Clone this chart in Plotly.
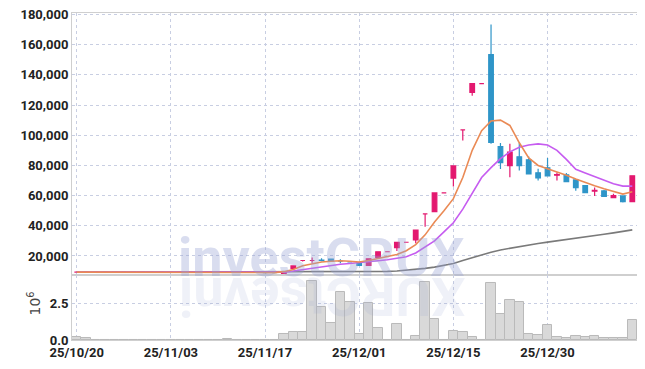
import plotly.graph_objects as go
from plotly.subplots import make_subplots

dates = ["25/10/20","25/10/21","25/10/22","25/10/23","25/10/24","25/10/27","25/10/28","25/10/29","25/10/30","25/10/31",
         "25/11/03","25/11/04","25/11/05","25/11/06","25/11/07","25/11/10","25/11/11","25/11/12","25/11/13","25/11/14",
         "25/11/17","25/11/18","25/11/19","25/11/20","25/11/21","25/11/24","25/11/25","25/11/26","25/11/27","25/11/28",
         "25/12/01","25/12/02","25/12/03","25/12/04","25/12/05","25/12/08","25/12/09","25/12/10","25/12/11","25/12/12",
         "25/12/15","25/12/16","25/12/17","25/12/18","25/12/19","25/12/22","25/12/23","25/12/24","25/12/26","25/12/29",
         "25/12/30","26/01/02","26/01/05","26/01/06","26/01/07","26/01/08","26/01/09","26/01/12","26/01/13","26/01/14"]

tick_labels = ["25/10/20","25/11/03","25/11/17","25/12/01","25/12/15","25/12/30"]

open_ = [9300]*20 + [7800, 7800, 7800, 11800, 17000, 17000, 17200, 18000, 16600, 16000,
         15500, 13800, 19000, 22800, 25500, 29100, 30600, 47900, 49400, 61800,
         71600, 103600, 128400, 134200, 153400, 92400, 79900, 85700, 83700, 75100,
         78400, 73500, 73800, 70400, 66700, 63000, 63100, 58700, 59800, 56000]
high_ = [9300]*20 + [7800, 7800, 9600, 13400, 17000, 19000, 18500, 18300, 17800, 16000,
         15500, 18100, 22800, 22800, 29000, 29100, 37200, 47900, 61800, 61800,
         79700, 103600, 134200, 134200, 173400, 94800, 94400, 94800, 85900, 77800,
         84900, 75300, 74900, 70400, 66700, 65300, 63800, 61200, 59800, 73100]
low_ = [9300]*20 + [7800, 7800, 7800, 11800, 16300, 15500, 16500, 16500, 15200, 16000,
        13800, 13800, 19000, 22800, 23300, 29100, 28400, 39400, 49400, 61800,
        66000, 96500, 126200, 134200, 94400, 77600, 72200, 76600, 74000, 70000,
        73000, 70000, 69000, 63300, 61600, 59800, 59400, 58700, 55400, 56000]
close_ = [9300]*20 + [7800, 7800, 9600, 13400, 17000, 17000, 17000, 16600, 16600, 16000,
          13800, 18100, 22800, 22800, 29000, 29100, 37200, 47900, 61800, 61800,
          79700, 103600, 134200, 134200, 95200, 81900, 88800, 79900, 74400, 71800,
          73100, 74000, 69300, 65300, 62000, 63500, 59400, 60000, 56000, 73100]

ma_orange = [9300]*20 + [9000, 9000, 9600, 11000, 13500, 15000, 16000, 16500, 16800, 16500,
                         16000, 17000, 18200, 19300, 21000, 23500, 27500, 34000, 42500, 50000,
                         58000, 72000, 90000, 103000, 109500, 110000, 106500, 95000, 85000, 80000,
                         78000, 75500, 73500, 71000, 68500, 66500, 64500, 62500, 61000, 62500]
ma_purple = [9300]*22 + [9300, 10000, 11000, 12000, 13000, 13800, 14500, 15000,
                         15500, 16000, 16800, 17500, 18500, 19500, 22000, 26000, 30000, 36000,
                         42000, 51000, 62000, 72000, 78500, 84500, 89000, 92000, 93500, 94300,
                         93500, 90000, 84000, 77500, 75000, 72500, 70000, 67800, 66300, 66300]
ma_gray = [9300]*31 + [9400, 9600, 9800, 10000, 10500, 11000, 11800, 12600, 13600,
                       15000, 17000, 19000, 20800, 22500, 24000, 25200, 26300, 27300, 28300,
                       29200, 30000, 30900, 31800, 32700, 33500, 34400, 35300, 36300, 37300]

volume_m = [0.18, 0.11, 0, 0, 0, 0, 0, 0, 0, 0,
            0, 0, 0, 0, 0, 0, 0.07, 0, 0, 0,
            0, 0, 0.40, 0.54, 0.54, 4.1, 2.3, 1.2, 3.3, 2.6,
            0.45, 2.55, 0.8, 0, 1.09, 0, 0.27, 4.0, 1.47, 0,
            0.61, 0.54, 0.18, 0, 3.93, 1.77, 2.77, 2.63, 0.45, 0.32,
            1.02, 0.18, 0.11, 0.25, 0.18, 0.25, 0.11, 0.11, 0.11, 1.38]

price_ticks = [20000, 40000, 60000, 80000, 100000, 120000, 140000, 160000, 180000]

UP = "#e3186f"
DOWN = "#2f95c8"
GRID = "#c8cee2"
FONT = "Roboto"
TICKFONT = dict(family=FONT, size=13, color="#222", weight="bold")

fig = make_subplots(rows=2, cols=1, shared_xaxes=True, vertical_spacing=0,
                    row_heights=[0.8012, 0.1988])

fig.add_trace(go.Bar(x=dates, y=volume_m, marker=dict(color="#d9d9d9", line=dict(color="#bababa", width=1)),
                     showlegend=False, hoverinfo="skip"), row=2, col=1)

fig.add_trace(go.Scatter(x=dates, y=ma_gray, mode="lines", line=dict(color="#7a7a7a", width=1.6),
                         showlegend=False), row=1, col=1)
fig.add_trace(go.Scatter(x=dates, y=ma_purple, mode="lines", line=dict(color="#c65cf0", width=1.6),
                         showlegend=False), row=1, col=1)
fig.add_trace(go.Scatter(x=dates, y=ma_orange, mode="lines", line=dict(color="#ea8a55", width=1.6),
                         showlegend=False), row=1, col=1)

fig.add_trace(go.Candlestick(x=dates, open=open_, high=high_, low=low_, close=close_,
                             increasing=dict(line=dict(color=UP, width=1.2), fillcolor=UP),
                             decreasing=dict(line=dict(color=DOWN, width=1.2), fillcolor=DOWN),
                             whiskerwidth=0, showlegend=False), row=1, col=1)

axis_common = dict(showline=True, linecolor="#cfcfcf", linewidth=1, mirror=True, automargin=False,
                   gridcolor=GRID, griddash="dot", gridwidth=1, zeroline=False, ticks="",
                   ticklabeloverflow="allow")

fig.update_xaxes(type="category", tickmode="array", tickvals=tick_labels, ticktext=tick_labels,
                 range=[-0.5, 59.5], rangeslider_visible=False, **axis_common)
fig.update_xaxes(showticklabels=False, row=1, col=1)
fig.update_xaxes(showticklabels=True, tickfont=TICKFONT, row=2, col=1)

fig.update_yaxes(range=[7400, 181000], tickvals=price_ticks, tickformat=",d",
                 tickfont=TICKFONT, row=1, col=1, **axis_common)
fig.update_yaxes(range=[0, 4.5], tickvals=[0, 2.5], ticktext=["0.0", "2.5"],
                 tickfont=TICKFONT, row=2, col=1, **axis_common)

fig.add_annotation(text="10<sup>6</sup>", xref="paper", yref="paper", x=-0.086, y=0.07,
                   textangle=-90, showarrow=False, font=dict(family="DejaVu Sans", size=14, color="#444"))

fig.add_annotation(text="investCRUX", xref="paper", yref="paper", x=0.442, y=0.15, yanchor="bottom",
                   showarrow=False,
                   font=dict(family="Roboto", size=54, weight="bold", color="rgba(150,162,210,0.36)"))
fig.add_annotation(text="XURCtsevni", xref="paper", yref="paper", x=0.442, y=0.235, yanchor="top",
                   textangle=180, showarrow=False,
                   font=dict(family="Roboto", size=54, weight="bold", color="rgba(150,162,210,0.15)"))

# the page body adds an 8px margin, so the figure is shrunk by that much
fig.update_layout(width=637, height=361, margin=dict(l=64, r=8, t=5, b=29),
                  paper_bgcolor="white", plot_bgcolor="white", bargap=0.0,
                  font=dict(family=FONT, color="#222"))

fig.write_html("out.html")
